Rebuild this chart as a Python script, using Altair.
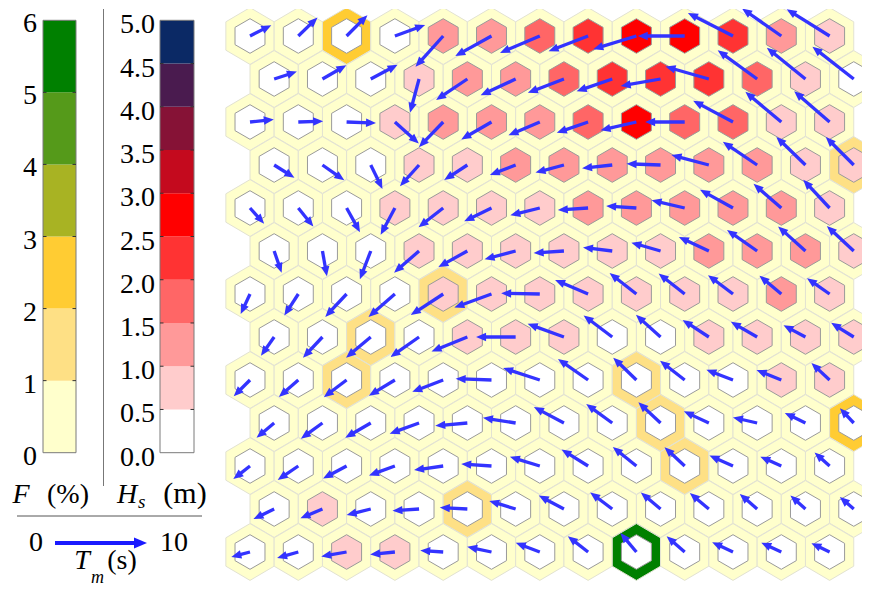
import altair as alt
import pandas as pd

# ---------------- data ----------------
F_EDGES = [0, 1, 2, 3, 4, 5, 6]
F_TICKS = [0, 1, 2, 3, 4, 5, 6]
F_COLORS = ["#ffffcc", "#fee085", "#ffcc33", "#a8b323", "#559a1a", "#008000"]
HS_EDGES = [0.0, 0.5, 1.0, 1.5, 2.0, 2.5, 3.0, 3.5, 4.0, 4.5, 5.0]
HS_TICKS = [0.0, 0.5, 1.0, 1.5, 2.0, 2.5, 3.0, 3.5, 4.0, 4.5, 5.0]
HS_COLORS = ["#ffffff", "#ffcccc", "#ff9999", "#ff6666", "#ff3333",
             "#ff0000", "#c40a1e", "#861236", "#4a1b4f", "#0b2965"]
TM_LEGEND = [0, 10]

# significant wave height per SOM node (m)
HS_ROWS = [
    [0.3, 0.3, 0.3, 0.3, 1.3, 1.3, 1.8, 2.3, 2.8, 2.8, 2.3, 1.3, 0.8],
    [0.3, 0.3, 0.3, 0.8, 1.3, 1.3, 1.8, 2.3, 2.3, 2.3, 1.8, 0.8, 0.3],
    [0.3, 0.3, 0.3, 0.8, 1.3, 1.3, 1.3, 1.8, 2.8, 1.8, 1.8, 0.8, 0.8],
    [0.3, 0.3, 0.3, 0.8, 0.8, 1.3, 1.3, 1.3, 1.3, 1.3, 1.3, 0.8, 0.8],
    [0.3, 0.3, 0.3, 0.8, 0.8, 0.8, 0.8, 1.3, 1.3, 1.3, 1.3, 1.3, 0.8],
    [0.3, 0.3, 0.3, 0.8, 0.8, 0.8, 0.8, 0.8, 0.8, 1.3, 1.3, 1.3, 0.8],
    [0.3, 0.3, 0.3, 0.3, 0.8, 0.8, 0.8, 0.8, 0.8, 0.8, 0.8, 1.3, 0.8],
    [0.3, 0.3, 0.3, 0.3, 0.8, 0.8, 0.8, 0.3, 0.3, 0.8, 0.8, 0.8, 0.8],
    [0.3, 0.3, 0.3, 0.3, 0.3, 0.3, 0.3, 0.3, 0.3, 0.3, 0.3, 0.8, 0.8],
    [0.3, 0.3, 0.3, 0.3, 0.3, 0.3, 0.3, 0.3, 0.3, 0.3, 0.3, 0.3, 0.3],
    [0.3, 0.3, 0.3, 0.3, 0.3, 0.3, 0.3, 0.3, 0.3, 0.3, 0.3, 0.3, 0.3],
    [0.3, 0.8, 0.3, 0.3, 0.3, 0.3, 0.3, 0.3, 0.3, 0.3, 0.3, 0.3, 0.3],
    [0.3, 0.3, 0.8, 0.8, 0.3, 0.3, 0.3, 0.3, 0.3, 0.3, 0.3, 0.3, 0.3],
]

# frequency of occurrence per node (%)
F_ROWS = [
    [0.5, 0.5, 2.5, 0.5, 0.5, 0.5, 0.5, 0.5, 0.5, 0.5, 0.5, 0.5, 0.5],
    [0.5, 0.5, 0.5, 0.5, 0.5, 0.5, 0.5, 0.5, 0.5, 0.5, 0.5, 0.5, 0.5],
    [0.5, 0.5, 0.5, 0.5, 0.5, 0.5, 0.5, 0.5, 0.5, 0.5, 0.5, 0.5, 0.5],
    [0.5, 0.5, 0.5, 0.5, 0.5, 0.5, 0.5, 0.5, 0.5, 0.5, 0.5, 0.5, 1.5],
    [0.5, 0.5, 0.5, 0.5, 0.5, 0.5, 0.5, 0.5, 0.5, 0.5, 0.5, 0.5, 0.5],
    [0.5, 0.5, 0.5, 0.5, 0.5, 0.5, 0.5, 0.5, 0.5, 0.5, 0.5, 0.5, 0.5],
    [0.5, 0.5, 0.5, 0.5, 1.5, 0.5, 0.5, 0.5, 0.5, 0.5, 0.5, 0.5, 0.5],
    [0.5, 0.5, 1.5, 0.5, 0.5, 0.5, 0.5, 0.5, 0.5, 0.5, 0.5, 0.5, 0.5],
    [0.5, 0.5, 1.5, 0.5, 0.5, 0.5, 0.5, 0.5, 1.5, 0.5, 0.5, 0.5, 0.5],
    [0.5, 0.5, 0.5, 0.5, 0.5, 0.5, 0.5, 0.5, 1.5, 0.5, 0.5, 0.5, 2.5],
    [0.5, 0.5, 0.5, 0.5, 0.5, 0.5, 0.5, 0.5, 0.5, 1.5, 0.5, 0.5, 0.5],
    [0.5, 0.5, 0.5, 0.5, 1.5, 0.5, 0.5, 0.5, 0.5, 0.5, 0.5, 0.5, 0.5],
    [0.5, 0.5, 0.5, 0.5, 0.5, 0.5, 0.5, 0.5, 5.5, 0.5, 0.5, 0.5, 0.5],
]

# mean wave period per node (s)
TM_ROWS = [
    [2.6, 2.9, 3.2, 3.5, 4.5, 4.5, 4.7, 4.6, 4.9, 5.1, 5.5, 5.2, 5.5],
    [2.6, 3.0, 3.3, 3.8, 4.1, 4.2, 4.2, 4.1, 4.4, 4.9, 5.3, 5.4, 5.7],
    [2.6, 2.7, 3.2, 3.5, 3.8, 3.8, 3.7, 3.6, 4.0, 4.3, 4.9, 5.1, 5.1],
    [2.6, 2.9, 2.9, 3.1, 3.0, 3.0, 3.2, 3.3, 3.7, 4.2, 4.5, 4.4, 4.3],
    [2.3, 2.6, 3.0, 3.3, 3.4, 3.3, 3.3, 3.3, 3.3, 3.7, 4.1, 4.0, 4.2],
    [2.5, 2.8, 3.3, 3.6, 3.6, 3.5, 3.3, 3.2, 3.3, 3.6, 4.0, 4.0, 4.0],
    [2.4, 2.8, 3.4, 3.8, 4.2, 4.3, 4.2, 3.9, 3.7, 3.6, 3.4, 3.1, 3.0],
    [2.5, 3.1, 3.5, 3.8, 4.2, 4.3, 4.2, 3.9, 3.6, 3.4, 3.3, 2.7, 2.9],
    [2.5, 2.8, 3.1, 3.3, 3.6, 3.9, 4.2, 4.0, 3.5, 3.4, 3.1, 2.9, 2.7],
    [2.5, 2.9, 3.2, 3.4, 3.5, 3.6, 3.7, 3.5, 3.3, 3.0, 2.7, 2.5, 2.2],
    [2.3, 2.7, 2.9, 3.0, 3.2, 3.3, 3.4, 3.4, 3.3, 3.0, 2.8, 2.5, 2.2],
    [2.5, 2.6, 2.7, 2.9, 3.0, 3.0, 3.1, 3.0, 2.8, 2.7, 2.5, 2.2, 2.0],
    [2.1, 2.4, 2.8, 2.7, 2.5, 2.7, 2.8, 2.8, 2.7, 2.6, 2.5, 2.4, 2.2],
]

# mean wave direction per node (deg, counter-clockwise from east, as drawn)
DIR_ROWS = [
    [27, 44, 45, 20, 228, 209, 203, 201, 197, 180, 153, 145, 148],
    [18, 30, 28, 255, 214, 205, 201, 199, 190, 164, 144, 141, 142],
    [6, 2, 358, 318, 226, 210, 203, 199, 193, 180, 152, 140, 139],
    [328, 325, 296, 228, 213, 201, 195, 186, 178, 165, 146, 136, 135],
    [312, 309, 299, 242, 218, 206, 194, 184, 176, 167, 151, 139, 133],
    [289, 280, 249, 221, 209, 195, 184, 173, 164, 155, 145, 138, 137],
    [245, 237, 227, 221, 213, 200, 179, 157, 142, 142, 143, 140, 145],
    [235, 227, 220, 215, 202, 180, 160, 143, 138, 147, 150, 152, 148],
    [225, 221, 217, 211, 201, 178, 162, 145, 136, 142, 159, 158, 137],
    [220, 216, 210, 200, 185, 171, 152, 144, 137, 155, 167, 154, 133],
    [218, 214, 208, 200, 188, 176, 163, 148, 141, 137, 156, 156, 138],
    [206, 203, 194, 184, 177, 163, 152, 143, 140, 140, 139, 138, 139],
    [195, 196, 190, 186, 176, 168, 159, 142, 130, 139, 155, 155, 154],
]

# ---------------- tables ----------------
cells = []
for r in range(len(HS_ROWS)):
    for c in range(len(HS_ROWS[r])):
        cells.append({"r": r, "c": c, "F": F_ROWS[r][c], "Hs": HS_ROWS[r][c],
                      "Tm": TM_ROWS[r][c], "Dir": DIR_ROWS[r][c]})
grid_df = pd.DataFrame(cells)

f_bins = pd.DataFrame({"lo": F_EDGES[:-1], "hi": F_EDGES[1:]})
f_bins["mid"] = (f_bins["lo"] + f_bins["hi"]) / 2
hs_bins = pd.DataFrame({"lo": HS_EDGES[:-1], "hi": HS_EDGES[1:]})
hs_bins["mid"] = (hs_bins["lo"] + hs_bins["hi"]) / 2
f_ticks = pd.DataFrame({"v": F_TICKS})
hs_ticks = pd.DataFrame({"v": HS_TICKS})
f_inner = pd.DataFrame({"v": F_EDGES[1:-1]})
hs_inner = pd.DataFrame({"v": HS_EDGES[1:-1]})
f_frame = pd.DataFrame({"lo": [F_EDGES[0]], "hi": [F_EDGES[-1]]})
hs_frame = pd.DataFrame({"lo": [HS_EDGES[0]], "hi": [HS_EDGES[-1]]})
tm_leg = pd.DataFrame({"t0": [TM_LEGEND[0]], "t1": [TM_LEGEND[1]]})
one = alt.Data(values=[{"k": 1}])

# ---------------- styles ----------------
FONT = "Liberation Serif"
OUTER = "M0,-1L0.85,-0.5L0.85,0.5L0,1L-0.85,0.5L-0.85,-0.5Z"
INNER = "M0,-1L0.866,-0.5L0.866,0.5L0,1L-0.866,0.5L-0.866,-0.5Z"
HEAD = "M0,0L-1,-0.42L-1,0.42Z"
ARROW = "#3333ff"
PX_PER_S = 9.2     # arrow length per second of Tm
COL_PX = 48.3      # px per column
ROW_PX = 43.0      # px per row

F_SCALE = alt.Scale(type="threshold", domain=F_EDGES[1:-1], range=F_COLORS)
HS_SCALE = alt.Scale(type="threshold", domain=HS_EDGES[1:-1], range=HS_COLORS)

# ---------------- left panel: colour bars + arrow key ----------------
LW, LH = 210, 578
FY = alt.Scale(domain=[0, 6], range=[443.7, 11.3], nice=False, zero=False)
HY = alt.Scale(domain=[0, 5], range=[443.7, 11.3], nice=False, zero=False)
TMX = alt.Scale(domain=[0, 10], range=[47, 139], nice=False, zero=False)

fbar = alt.Chart(f_bins).mark_rect().encode(
    x=alt.value(35), x2=alt.value(68),
    y=alt.Y("lo:Q", scale=FY, axis=None), y2="hi:Q",
    fill=alt.Fill("mid:Q", scale=F_SCALE, legend=None))
fframe = alt.Chart(f_frame).mark_rect(fillOpacity=0, stroke="#7a7a7a", strokeWidth=1).encode(
    x=alt.value(35), x2=alt.value(68),
    y=alt.Y("lo:Q", scale=FY, axis=None), y2="hi:Q")
ftickL = alt.Chart(f_inner).mark_rule(color="#333333", strokeWidth=1).encode(
    x=alt.value(35), x2=alt.value(38.5), y=alt.Y("v:Q", scale=FY, axis=None))
ftickR = alt.Chart(f_inner).mark_rule(color="#333333", strokeWidth=1).encode(
    x=alt.value(64.5), x2=alt.value(68), y=alt.Y("v:Q", scale=FY, axis=None))
flab = alt.Chart(f_ticks).mark_text(font=FONT, fontSize=28, align="right",
                                     baseline="middle", dy=4).encode(
    x=alt.value(29), y=alt.Y("v:Q", scale=FY, axis=None),
    text=alt.Text("v:Q", format="d"))

hbar = alt.Chart(hs_bins).mark_rect().encode(
    x=alt.value(152), x2=alt.value(186),
    y=alt.Y("lo:Q", scale=HY, axis=None), y2="hi:Q",
    fill=alt.Fill("mid:Q", scale=HS_SCALE, legend=None))
hframe = alt.Chart(hs_frame).mark_rect(fillOpacity=0, stroke="#7a7a7a", strokeWidth=1).encode(
    x=alt.value(152), x2=alt.value(186),
    y=alt.Y("lo:Q", scale=HY, axis=None), y2="hi:Q")
htickL = alt.Chart(hs_inner).mark_rule(color="#333333", strokeWidth=1).encode(
    x=alt.value(152), x2=alt.value(155.5), y=alt.Y("v:Q", scale=HY, axis=None))
htickR = alt.Chart(hs_inner).mark_rule(color="#333333", strokeWidth=1).encode(
    x=alt.value(182.5), x2=alt.value(186), y=alt.Y("v:Q", scale=HY, axis=None))
hlab = alt.Chart(hs_ticks).mark_text(font=FONT, fontSize=28, align="right",
                                      baseline="middle", dy=5).encode(
    x=alt.value(147), y=alt.Y("v:Q", scale=HY, axis=None),
    text=alt.Text("v:Q", format=".1f"))

sep = alt.Chart(one).mark_rule(color="#777777", strokeWidth=1).encode(
    x=alt.value(95.5), y=alt.value(0), y2=alt.value(477))
hline = alt.Chart(one).mark_rule(color="#555555", strokeWidth=1).encode(
    x=alt.value(9), x2=alt.value(194), y=alt.value(507))


def txt(s, x, y, size=28, italic=False, align="left"):
    return alt.Chart(one).mark_text(
        text=s, font=FONT, fontSize=size, align=align, baseline="alphabetic",
        fontStyle="italic" if italic else "normal", color="black").encode(
        x=alt.value(x), y=alt.value(y))


t_F = txt("F", 4.5, 494, italic=True)
t_Fu = txt("(%)", 60, 494, align="center")
t_H = txt("H", 109, 494, italic=True)
t_s = txt("s", 130, 499, size=19, italic=True)
t_Hu = txt("(m)", 177, 494, size=30, align="center")
t_T = txt("T", 74, 560, size=28, italic=True, align="center")
t_m = txt("m", 83, 574, size=18, italic=True, align="left")
t_Tu = txt("(s)", 114, 560, size=28, align="center")

leg_line = alt.Chart(tm_leg).transform_calculate(tl="datum.t1 - 1.0").mark_rule(
    color="#1a1aff", strokeWidth=4).encode(
    x=alt.X("t0:Q", scale=TMX, axis=None), x2="tl:Q", y=alt.value(534))
leg_head = alt.Chart(tm_leg).mark_point(
    shape=HEAD, size=676, filled=True, opacity=1, color="#1a1aff", strokeWidth=0).encode(
    x=alt.X("t1:Q", scale=TMX, axis=None), y=alt.value(534))
leg_0 = alt.Chart(tm_leg).mark_text(font=FONT, fontSize=28, align="center",
                                     baseline="middle", dx=-19).encode(
    x=alt.X("t0:Q", scale=TMX, axis=None), y=alt.value(534),
    text=alt.Text("t0:Q", format="d"))
leg_10 = alt.Chart(tm_leg).mark_text(font=FONT, fontSize=28, align="center",
                                      baseline="middle", dx=27).encode(
    x=alt.X("t1:Q", scale=TMX, axis=None), y=alt.value(534),
    text=alt.Text("t1:Q", format="d"))

left = alt.layer(
    fbar, fframe, ftickL, ftickR, flab,
    hbar, hframe, htickL, htickR, hlab,
    sep, hline, t_F, t_Fu, t_H, t_s, t_Hu, t_T, t_m, t_Tu,
    leg_line, leg_head, leg_0, leg_10,
).resolve_scale(y="independent", x="independent", fill="independent").properties(
    width=LW, height=LH)

# ---------------- right panel: hexagonal SOM ----------------
GW, GH = 644, 578
U0 = -32 / COL_PX
R0 = -27 / ROW_PX
XS = alt.Scale(domain=[U0, U0 + GW / COL_PX], nice=False, zero=False)
YS = alt.Scale(domain=[R0, R0 + GH / ROW_PX], nice=False, zero=False, reverse=True)

base = alt.Chart(grid_df).transform_calculate(
    u="datum.c + (datum.r % 2) * 0.5",
    L=f"datum.Tm * {PX_PER_S}",
    cs="cos(datum.Dir * PI / 180)",
    sn="sin(datum.Dir * PI / 180)",
).transform_calculate(
    Ll="max(datum.L - 6, 0)",
    xt=f"datum.u + datum.L * datum.cs / {COL_PX}",
    yt=f"datum.r - datum.L * datum.sn / {ROW_PX}",
    rot="(360 - datum.Dir) % 360",
).transform_calculate(
    xl=f"datum.u + datum.Ll * datum.cs / {COL_PX}",
    yl=f"datum.r - datum.Ll * datum.sn / {ROW_PX}",
)

outer = base.mark_point(shape=OUTER, size=3226, filled=True, opacity=1,
                        stroke="#e2e2d2", strokeWidth=1, clip=True).encode(
    x=alt.X("u:Q", scale=XS, axis=None),
    y=alt.Y("r:Q", scale=YS, axis=None),
    fill=alt.Fill("F:Q", scale=F_SCALE, legend=None))
inner = base.mark_point(shape=INNER, size=1197, filled=True, opacity=1,
                        stroke="#9a9a9a", strokeWidth=1, clip=True).encode(
    x=alt.X("u:Q", scale=XS, axis=None),
    y=alt.Y("r:Q", scale=YS, axis=None),
    fill=alt.Fill("Hs:Q", scale=HS_SCALE, legend=None))
shaft = base.mark_rule(color=ARROW, strokeWidth=3.3, clip=True).encode(
    x=alt.X("u:Q", scale=XS, axis=None), x2="xl:Q",
    y=alt.Y("r:Q", scale=YS, axis=None), y2="yl:Q")
head = base.mark_point(shape=HEAD, size=400, filled=True, opacity=1,
                       color=ARROW, strokeWidth=0, clip=True).encode(
    x=alt.X("xt:Q", scale=XS, axis=None),
    y=alt.Y("yt:Q", scale=YS, axis=None),
    angle=alt.Angle("rot:Q", scale=None))

grid = alt.layer(outer, inner, shaft, head).resolve_scale(
    fill="independent").properties(width=GW, height=GH)

chart = alt.hconcat(left, grid, spacing=0).resolve_scale(
    fill="independent", x="independent", y="independent"
).properties(padding=0, background="white").configure_view(strokeWidth=0)

chart.save("out.html", embed_options={"renderer": "svg", "actions": False})
